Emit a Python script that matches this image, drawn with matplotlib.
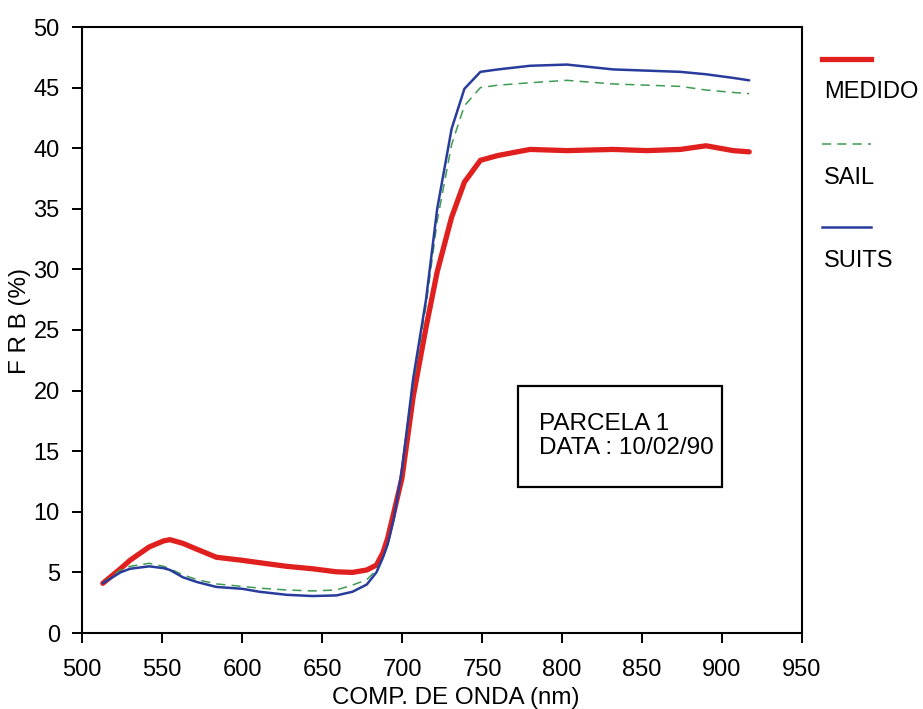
import matplotlib
matplotlib.use("Agg")
import matplotlib.pyplot as plt
from matplotlib.lines import Line2D
from matplotlib.patches import Rectangle

plt.rcParams['font.family'] = ['Liberation Sans', 'DejaVu Sans']

wavelength = [513, 524, 530, 542, 551, 555, 563, 572, 584, 600, 611, 628, 644, 659,
              669, 678, 684, 688, 691, 695, 700, 707, 715, 722, 731, 739, 749, 760,
              780, 803, 832, 853, 874, 890, 907, 917]

medido = [4.1, 5.3, 6.0, 7.1, 7.6, 7.7, 7.4, 6.9, 6.25, 6.0, 5.8, 5.5, 5.3, 5.05,
          5.0, 5.2, 5.6, 6.6, 7.8, 10.0, 12.8, 19.5, 25.2, 29.8, 34.3, 37.2, 39.0, 39.4,
          39.9, 39.8, 39.9, 39.8, 39.9, 40.2, 39.8, 39.7]

sail = [4.1, 5.2, 5.5, 5.75, 5.5, 5.3, 4.8, 4.4, 4.05, 3.85, 3.7, 3.55, 3.47, 3.55,
        3.95, 4.4, 5.2, 6.2, 7.3, 9.5, 13.3, 20.5, 27.0, 34.0, 40.3, 43.5, 45.0, 45.2,
        45.4, 45.6, 45.3, 45.2, 45.1, 44.8, 44.6, 44.5]

suits = [4.1, 5.0, 5.3, 5.5, 5.35, 5.2, 4.6, 4.2, 3.8, 3.65, 3.4, 3.15, 3.05, 3.1,
         3.4, 4.0, 5.0, 6.2, 7.3, 9.5, 13.5, 21.0, 27.5, 35.0, 41.6, 44.9, 46.3, 46.5,
         46.8, 46.9, 46.5, 46.4, 46.3, 46.1, 45.8, 45.6]

series_names = ["MEDIDO", "SAIL", "SUITS"]
xticks = [500, 550, 600, 650, 700, 750, 800, 850, 900, 950]
yticks = [0, 5, 10, 15, 20, 25, 30, 35, 40, 45, 50]

RED = "#e0201e"
GREEN = "#3f9a52"
BLUE = "#283c9c"
FS = 17

fig = plt.figure(figsize=(9.23, 7.09), dpi=100)
ax = fig.add_axes([82 / 923, 1 - 633 / 709, 720 / 923, 606 / 709])

styles = [
    dict(color=RED, lw=3.8, ls="-"),
    dict(color=GREEN, lw=1.1, ls=(0, (6, 4))),
    dict(color=BLUE, lw=1.8, ls="-"),
]
for vals, st in zip([medido, sail, suits], styles):
    ax.plot(wavelength, vals, solid_capstyle="round", **st)

ax.set_xlim(500, 950)
ax.set_ylim(0, 50)
ax.set_xticks(xticks)
ax.set_yticks(yticks)
ax.tick_params(axis="both", direction="out", length=7, width=1.4,
               labelsize=FS, colors="black")
ax.tick_params(axis="x", pad=12)
ax.tick_params(axis="y", pad=9)
for sp in ax.spines.values():
    sp.set_linewidth(1.5)

ax.set_xlabel("COMP. DE ONDA (nm)", fontsize=17.4, va="center")
ax.set_ylabel("F R B (%)", fontsize=17.4, va="center")
ax.xaxis.set_label_coords(0.519, -0.107)
ax.yaxis.set_label_coords(-0.086, 0.515)

# annotation box
ax.add_patch(Rectangle((0.6056, 0.2409), 0.2833, 0.1667, transform=ax.transAxes,
                       fill=False, ec="black", lw=1.6))
ax.text(0.6347, 0.325, "PARCELA 1\nDATA : 10/02/90", transform=ax.transAxes,
        fontsize=17.5, ha="left", va="center", linespacing=1.15)

# legend: sample line above each label
leg_line_y = [59, 144, 227]
leg_text_y = [92, 178, 261]
for name, st, ly, ty in zip(series_names, styles, leg_line_y, leg_text_y):
    fig.add_artist(Line2D([822 / 923, 871 / 923], [1 - ly / 709, 1 - ly / 709],
                          transform=fig.transFigure, **st))
    fig.text(824 / 923, 1 - ty / 709, name, fontsize=FS, ha="left", va="center")

fig.savefig("out.png", dpi=100)
